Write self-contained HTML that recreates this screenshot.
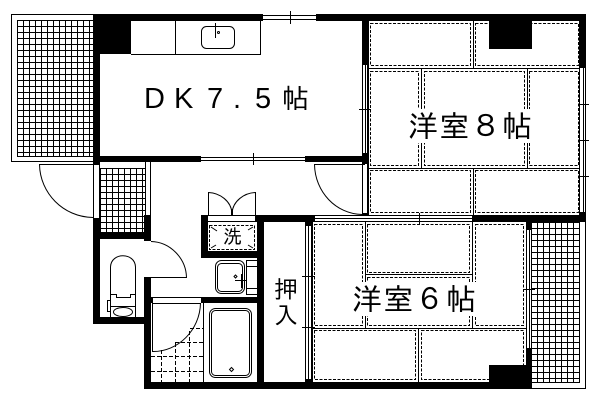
<!DOCTYPE html>
<html><head><meta charset="utf-8"><style>
html,body{margin:0;padding:0;background:#fff}
svg{display:block}
text{font-family:"Liberation Sans","IPAGothic","Noto Sans CJK JP",sans-serif;fill:#000}
</style></head><body>
<svg width="600" height="400" viewBox="0 0 600 400" xmlns="http://www.w3.org/2000/svg">
<rect width="600" height="400" fill="#fff"/>

<!-- grids -->
<rect x="11.500" y="14.500" width="82" height="147" fill="#fff" stroke="#000"/>
<g fill="none" stroke="#000" shape-rendering="crispEdges">
<path d="M17.500 20v137m6-137v137m6-137v137m6-137v137m6-137v137m6-137v137m6-137v137m6-137v137m6-137v137m6-137v137m6-137v137m6-137v137m6-137v137"/>
<path d="M17 20.500h76m-76 6h76m-76 6h76m-76 6h76m-76 6h76m-76 6h76m-76 6h76m-76 6h76m-76 6h76m-76 6h76m-76 6h76m-76 6h76m-76 6h76m-76 6h76m-76 6h76m-76 6h76m-76 6h76m-76 6h76m-76 6h76m-76 6h76m-76 6h76m-76 6h76m-76 6h76m-76 4h76"/>
<path d="M100.500 168v65m6-65v65m6-65v65m6-65v65m6-65v65m6-65v65m6-65v65m6-65v65"/>
<path d="M100 168.500h46m-46 6h46m-46 6h46m-46 6h46m-46 6h46m-46 6h46m-46 6h46m-46 6h46m-46 6h46m-46 6h46m-46 6h46"/>
<path d="M531.500 222v161m6-161v161m6-161v161m6-161v161m6-161v161m6-161v161m6-161v161m6-161v161"/>
<path d="M532 222.500h48m-48 6h48m-48 6h48m-48 6h48m-48 6h48m-48 6h48m-48 6h48m-48 6h48m-48 6h48m-48 6h48m-48 6h48m-48 6h48m-48 6h48m-48 6h48m-48 6h48m-48 6h48m-48 6h48m-48 6h48m-48 6h48m-48 6h48m-48 6h48m-48 6h48m-48 6h48m-48 6h48m-48 6h48m-48 6h48m-48 6h48"/>
</g>
<path d="M93.500 162V218M99.500 162V218M145.500 162V216M150.500 162V216" stroke="#000" fill="none"/>
<path d="M579.500 222V383M532 382.500H580M585.500 222V388.500H532" stroke="#000" fill="none"/>

<!-- tatami solid lines -->
<g fill="none" stroke="#000">
<path d="M368 68.500H579M368 168.500H579M473.500 21V68M473.500 168V215M421.500 68V168M527.500 68V168"/>
<path d="M312 328.500H526M365.500 222V328M472.500 222V328M365 274.500H472M418.500 328V382M312.500 222V382M368.500 21V215"/>
</g>
<g fill="none" stroke="#000" stroke-dasharray="3 1.500">
<rect x="370.500" y="23.500" width="100" height="42"/>
<rect x="475.500" y="23.500" width="103" height="42"/>
<rect x="370.500" y="71.500" width="48" height="94"/>
<rect x="424.500" y="71.500" width="100" height="94"/>
<rect x="529.500" y="71.500" width="49" height="94"/>
<rect x="370.500" y="170.500" width="100" height="42"/>
<rect x="475.500" y="170.500" width="103" height="42"/>
<rect x="314.500" y="224.500" width="48" height="101"/>
<rect x="367.500" y="224.500" width="102" height="48"/>
<rect x="367.500" y="277.500" width="102" height="48"/>
<rect x="475.500" y="224.500" width="48" height="101"/>
<rect x="314.500" y="330.500" width="101" height="49"/>
<rect x="421.500" y="330.500" width="102" height="49"/>
</g>
<!-- label white backgrounds -->
<rect x="404" y="109" width="128" height="34" fill="#fff"/>
<rect x="348" y="282" width="130" height="34" fill="#fff"/>

<!-- walls -->
<g fill="#000">
<rect x="93" y="14" width="170" height="7"/>
<rect x="316" y="14" width="270" height="7"/>
<rect x="93" y="14" width="7" height="151"/>
<rect x="93" y="14" width="38" height="40"/>
<rect x="93" y="156" width="108" height="6"/>
<rect x="305" y="156" width="63" height="6"/>
<rect x="362" y="14" width="6" height="51"/>
<rect x="362" y="153" width="6" height="11"/>
<rect x="489" y="21" width="43" height="28"/>
<rect x="579" y="14" width="7" height="54"/>
<rect x="579" y="212" width="7" height="10"/>
<rect x="472" y="215" width="114" height="7"/>
<rect x="93" y="218" width="7" height="106"/>
<rect x="93" y="232" width="58" height="7"/>
<rect x="93" y="317" width="58" height="7"/>
<rect x="144" y="215" width="7" height="26"/>
<rect x="144" y="277" width="7" height="112"/>
<rect x="144" y="382" width="388" height="7"/>
<rect x="201" y="297" width="63" height="6"/>
<rect x="144" y="297" width="9" height="6"/>
<rect x="201" y="215" width="7" height="43"/>
<rect x="201" y="251" width="56" height="7"/>
<rect x="255" y="215" width="60" height="7"/>
<rect x="257" y="215" width="7" height="174"/>
<rect x="305" y="222" width="7" height="4"/>
<rect x="305" y="379" width="7" height="4"/>
<rect x="526" y="222" width="6" height="8"/>
<rect x="526" y="348" width="6" height="41"/>
<rect x="489" y="365" width="43" height="24"/>
</g>

<!-- windows -->
<g fill="none" stroke="#000">
<path d="M263 15.500H316M263 19.500H316M290.500 11V24"/>
<path d="M201 157.500H305M201 160.500H305M253.500 153V165"/>
<path d="M362.500 65V153M365.500 65V153M367.500 65V153M359 109.500H371"/>
<path d="M362.500 164V215M367.500 164V215"/>
<path d="M579.500 68V212M583.500 68V212M585.500 68V215M578 104.500H589M578 140.500H589M578 176.500H589"/>
<path d="M315 215.500H472M315 218.500H472M315 221.500H472M419.500 213V225"/>
<path d="M305.500 226V379M308.500 226V379M311.500 226V379M302 276.500H315M302 327.500H315"/>
<path d="M526.500 230V348M529.500 230V348M523 289.500H535"/>
</g>
<rect x="362" y="213" width="6" height="2" fill="#000"/>

<!-- kitchen -->
<g fill="none" stroke="#000">
<path d="M131 54.500H260.500V21M175.500 21V54"/>
<rect x="201.500" y="26.500" width="33" height="22" rx="5"/>
<path d="M215.500 23V38"/>
<circle cx="218.500" cy="32.500" r="1"/>
</g>

<!-- doors -->
<g fill="none" stroke="#000">
<path d="M93 164.500H39.500C40 193 63 217 93 217.500"/>
<path d="M365 164.500H314.500C315 192 336 214 362 214.500"/>
<path d="M151 277.500H186.500C186 258 170 242 151 241.500"/>
<path d="M152.500 303V351.500C178 352 200 330 200.500 303"/>
<path d="M153 297.500H201M153 303.500H201"/>
</g>

<!-- bath -->
<g fill="none" stroke="#000">
<path d="M203.500 303V382"/>
<rect x="209.500" y="308.500" width="42" height="69" rx="6"/>
<rect x="211.500" y="310.500" width="38" height="65" rx="4"/>
<path d="M231.500 367.500l2 2-2 2-2-2z"/>
</g>
<g fill="none" stroke="#000" stroke-dasharray="4 2">
<path d="M190 328.500H203M175 342.500H203M151 356.500H203M151 371.500H203"/>
<path d="M161.500 350V382M175.500 343V382M189.500 331V382"/>
</g>

<!-- washbasin -->
<g fill="none" stroke="#000">
<rect x="215.500" y="260.500" width="29" height="33" rx="6"/>
<rect x="217.500" y="263.500" width="25" height="28" rx="4"/>
<path d="M235 280.500H246M241.500 274V288"/>
<path d="M235.500 275l1.500 1.500-1.500 1.500-1.500-1.500z"/>
<path d="M246.500 260V294M246 260.500H257M246 266.500H257M246 288.500H257M246 294.500H257"/>
</g>

<!-- laundry -->
<g fill="none" stroke="#000">
<rect x="209.500" y="225.500" width="45" height="24" stroke-dasharray="3 1.500"/>
<path d="M211 227l6 4M253 227l-5 3M211 248l5-3M253 248l-5-3"/>
<path d="M208.500 215V192.500C220 193 231 201 232 213C233 201 244 193 255.500 192.500V215M208 215.500H255M208 221.500H255"/>
</g>
<rect x="231" y="209" width="2" height="6" fill="#000"/>

<!-- toilet -->
<g fill="none" stroke="#000">
<path d="M110.500 317V267C111 252 135 252 135.500 267V317"/>
<path d="M110.500 294.500H116.500V297.500H130.500V294.500H135.500M110.500 306.500H135.500M110 300.500H107.500V311.500H110"/>
<ellipse cx="123" cy="312" rx="9.500" ry="4.500"/>
</g>

<!-- labels -->
<text font-size="29" x="144 174 207 233 255" y="108">DK7.5</text>
<text x="282" y="108" font-size="27">帖</text>
<text x="408" y="137" font-size="30" textLength="124" lengthAdjust="spacing">洋室８帖</text>
<text x="352" y="310" font-size="30" textLength="124" lengthAdjust="spacing">洋室６帖</text>
<text x="274" y="298" font-size="24">押</text>
<text x="274" y="324" font-size="24">入</text>
<text x="223" y="243" font-size="19">洗</text>
</svg>
</body></html>
